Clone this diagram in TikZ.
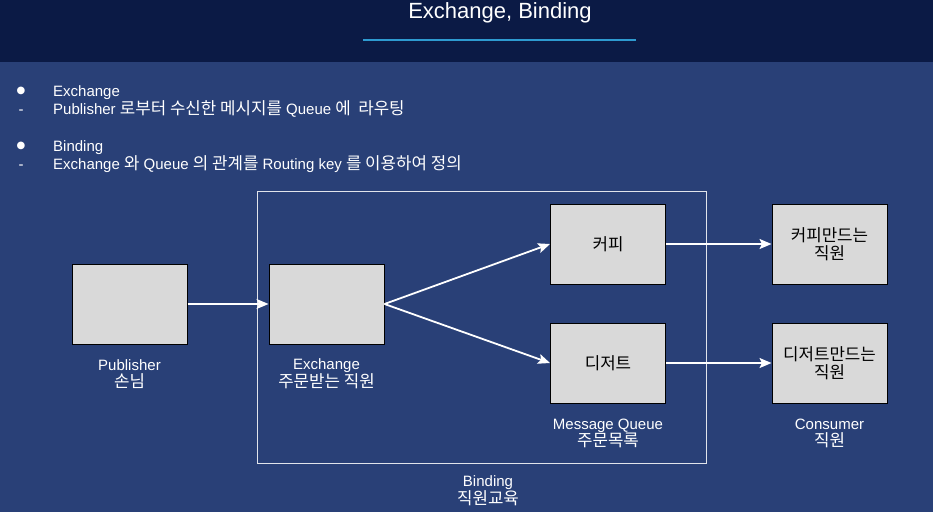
\documentclass[tikz,border=0pt]{standalone}
\usepackage{fontspec}
\setmainfont{Liberation Sans}
\newfontfamily\kr[Scale=1.12]{Noto Sans CJK KR}
\newfontfamily\symf{DejaVu Sans}
\newcommand\K[1]{{\kr #1}}
\usetikzlibrary{arrows.meta}
\definecolor{hdr}{RGB}{11,26,69}
\definecolor{bodybg}{RGB}{41,64,119}
\definecolor{uline}{RGB}{46,154,208}
\definecolor{boxfill}{RGB}{217,217,217}
\definecolor{framec}{RGB}{225,228,235}
\begin{document}
\begin{tikzpicture}[x=1pt,y=-1pt,
  txt/.style={text=white,font=\fontsize{15}{17}\selectfont,inner sep=0pt},
  lbl/.style={txt,align=center},
  boxn/.style={draw=black,line width=1pt,fill=boxfill,minimum width=115pt,minimum height=80pt,inner sep=0pt,align=center,font=\fontsize{15}{18}\selectfont\kr},
  arr/.style={draw=white,line width=1.8pt,-{Stealth[length=12pt,width=10pt,inset=2.5pt]}}]
\useasboundingbox (0,0) rectangle (933,512);
\fill[bodybg] (0,0) rectangle (933,512);
\fill[hdr] (0,0) rectangle (933,62);
\node[txt,font=\fontsize{22}{24}\selectfont] (title) at (500,13) {Exchange, Binding};
\draw[uline,line width=2pt] (363,40) -- (636,40);

% bullet text
\node[txt,font=\fontsize{10}{11}\symf] (b1) at (21,91) {●};
\node[txt,anchor=base west] (t1) at (53,96.5) {Exchange};
\node[txt,anchor=base] (d1) at (21,114) {-};
\node[txt,anchor=base west] (t2) at (53,114) {Publisher \K{로부터 수신한 메시지를} Queue \K{에\ \ 라우팅}};
\node[txt,font=\fontsize{10}{11}\symf] (b2) at (21,146) {●};
\node[txt,anchor=base west] (t3) at (53,151) {Binding};
\node[txt,anchor=base] (d2) at (21,169) {-};
\node[txt,anchor=base west] (t4) at (53,169) {Exchange \K{와} Queue \K{의 관계를} Routing key \K{를 이용하여 정의}};

% binding frame
\draw[framec,line width=0.8pt] (257,191) rectangle (706,463);

% boxes
\node[boxn] (pub) at (129.5,304) {};
\node[boxn] (ex) at (326.5,304) {};
\node[boxn] (q1) at (608,244) {커피};
\node[boxn] (q2) at (608,363) {디저트};
\node[boxn] (c1) at (829.5,244) {커피만드는\\직원};
\node[boxn] (c2) at (829.5,363) {디저트만드는\\직원};

% labels
\node[lbl] (lpub) at (129.5,374) {Publisher\\\K{손님}};
\node[lbl] (lex) at (326.5,374) {Exchange\\\K{주문받는 직원}};
\node[lbl] (lq) at (608,433) {Message Queue\\\K{주문목록}};
\node[lbl] (lc) at (829.5,433) {Consumer\\\K{직원}};
\node[lbl] (lb) at (488,491) {Binding\\\K{직원교육}};

% arrows
\draw[arr] (pub.east) -- (ex.west);
\draw[arr] (ex.east) -- (q1.west);
\draw[arr] (ex.east) -- (q2.west);
\draw[arr] (q1.east) -- (c1.west);
\draw[arr] (q2.east) -- (c2.west);
\end{tikzpicture}
\end{document}
